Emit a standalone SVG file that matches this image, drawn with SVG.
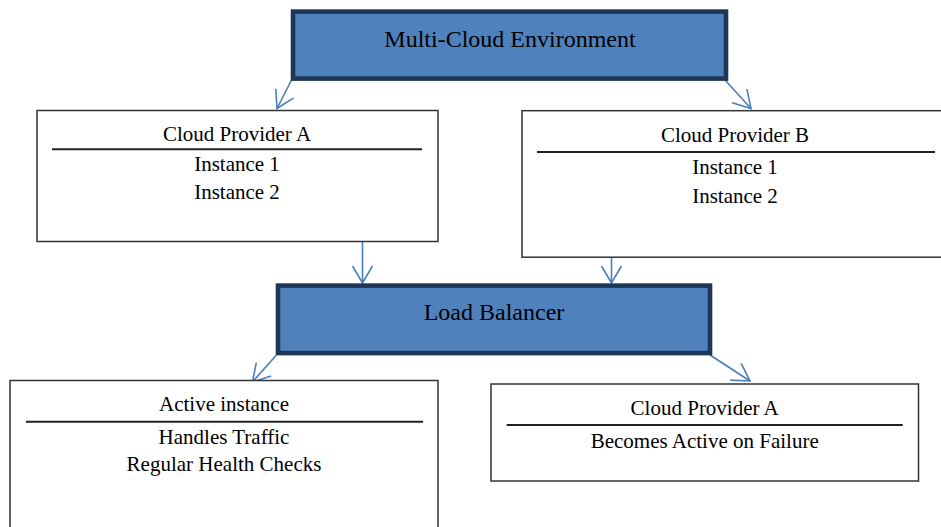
<svg xmlns="http://www.w3.org/2000/svg" width="941" height="527" viewBox="0 0 941 527">
<style>
  .hdr { fill: #4F81BD; stroke: #1F3756; stroke-width: 4.6; }
  .box { fill: #FFFFFF; stroke: #333333; stroke-width: 1.5; }
  .div { stroke: #222222; stroke-width: 2; }
  .t { font-family: "Liberation Serif", "Times New Roman", serif; fill: #000000; text-anchor: middle; }
  .big { font-size: 24px; }
  .sm { font-size: 21px; }
  .conn { stroke: #4A7EBB; stroke-width: 1.6; fill: none; marker-end: url(#arr); }
</style>
<defs>
  <marker id="arr" markerUnits="userSpaceOnUse" markerWidth="30" markerHeight="30" refX="0" refY="0" viewBox="-20 -15 25 30" orient="auto" overflow="visible">
    <path d="M-17,-10 L0,0 L-17,10" fill="none" stroke="#4A7EBB" stroke-width="1.6"/>
  </marker>
</defs>
<rect width="941" height="527" fill="#FFFFFF"/>
<g id="connectors">
  <line class="conn" x1="291.5" y1="80" x2="277" y2="108.5"/>
  <line class="conn" x1="725" y1="80" x2="751" y2="108.5"/>
  <line class="conn" x1="362.5" y1="241.5" x2="362.5" y2="283"/>
  <line class="conn" x1="611.5" y1="257.5" x2="611.5" y2="283"/>
  <line class="conn" x1="276" y1="355.5" x2="252.5" y2="382"/>
  <line class="conn" x1="710" y1="355" x2="750" y2="381"/>
</g>
<g id="multi-cloud">
  <rect class="hdr" x="293" y="11.6" width="433" height="67"/>
  <text class="t big" x="510" y="47">Multi-Cloud Environment</text>
</g>
<g id="provider-a">
  <rect class="box" x="37" y="110.5" width="401" height="131"/>
  <line class="div" x1="52" y1="149.3" x2="422" y2="149.3"/>
  <text class="t sm" x="237" y="140.5">Cloud Provider A</text>
  <text class="t sm" x="237" y="171">Instance 1</text>
  <text class="t sm" x="237" y="199">Instance 2</text>
</g>
<g id="provider-b">
  <rect class="box" x="522" y="110.7" width="428" height="146.5"/>
  <line class="div" x1="537" y1="152" x2="935" y2="152"/>
  <text class="t sm" x="735" y="142">Cloud Provider B</text>
  <text class="t sm" x="735" y="174">Instance 1</text>
  <text class="t sm" x="735" y="202.5">Instance 2</text>
</g>
<g id="load-balancer">
  <rect class="hdr" x="278" y="285.6" width="432" height="67.5"/>
  <text class="t big" x="494" y="320">Load Balancer</text>
</g>
<g id="active-instance">
  <rect class="box" x="10" y="380.5" width="428" height="160"/>
  <line class="div" x1="26" y1="421.7" x2="423" y2="421.7"/>
  <text class="t sm" x="224" y="411">Active instance</text>
  <text class="t sm" x="224" y="443.5">Handles Traffic</text>
  <text class="t sm" x="224" y="471">Regular Health Checks</text>
</g>
<g id="standby">
  <rect class="box" x="491" y="384" width="427.5" height="97"/>
  <line class="div" x1="506.7" y1="425" x2="902.7" y2="425"/>
  <text class="t sm" x="704.7" y="415">Cloud Provider A</text>
  <text class="t sm" x="704.7" y="447.5">Becomes Active on Failure</text>
</g>
</svg>
